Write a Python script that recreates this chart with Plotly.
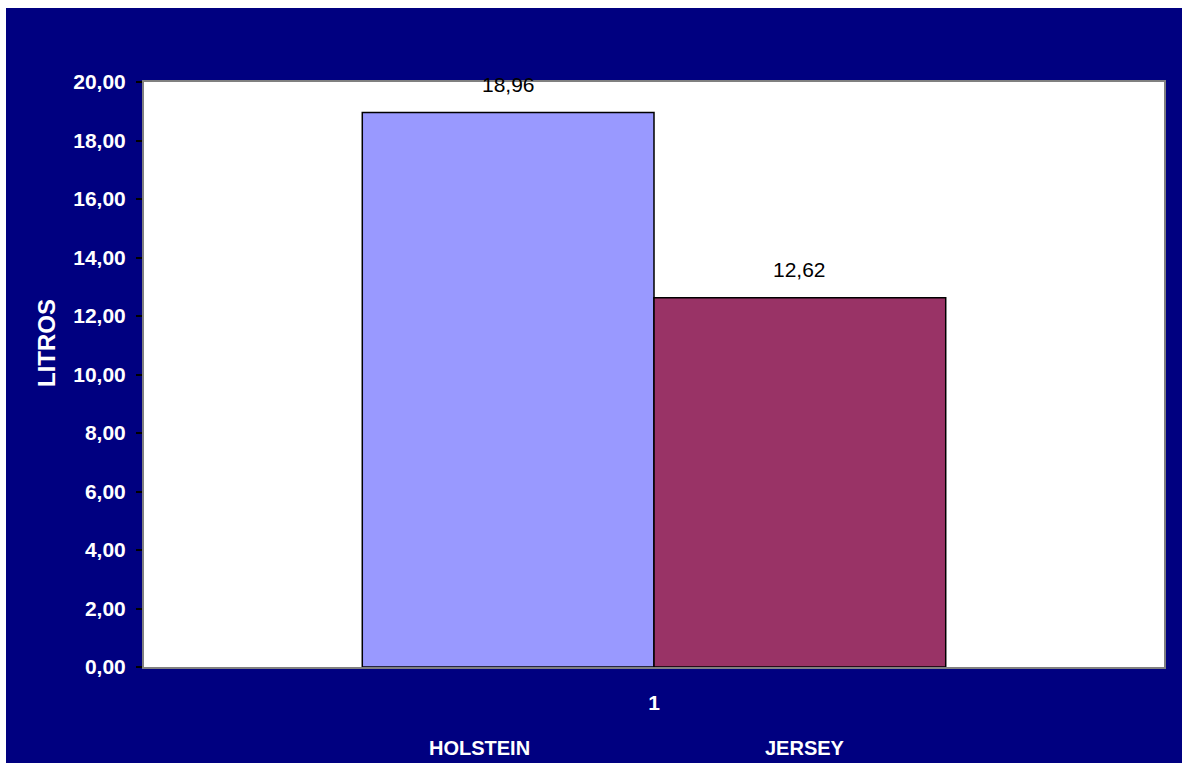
import plotly.graph_objects as go

category = ["1"]
series_names = ["HOLSTEIN", "JERSEY"]
holstein = [18.96]
jersey = [12.62]
series_values = [holstein, jersey]
series_colors = ["#9999FF", "#993366"]
y_ticks = [0, 2, 4, 6, 8, 10, 12, 14, 16, 18, 20]

W, H = 1182, 763
L, R, T, B = 144, 18, 82, 96
pw, ph = W - L - R, H - T - B
BARGAP = 0.428

def px_x(p):
    return (p - L) / pw

def px_y(p):
    return (H - B - p) / ph

fig = go.Figure()
for name, vals, col in zip(series_names, series_values, series_colors):
    fig.add_trace(go.Bar(
        x=category, y=vals, name=name,
        marker=dict(color=col, line=dict(color="black", width=1.5)),
        showlegend=False,
    ))

bar_w = pw * (1 - BARGAP) / len(series_values)
annotations = []
for i, vals in enumerate(series_values):
    shift = (i - (len(series_values) - 1) / 2) * bar_w
    for ci, v in enumerate(vals):
        annotations.append(dict(
            x=ci, y=v, xref="x", yref="y", text=f"{v:.2f}".replace(".", ","),
            showarrow=False, xshift=shift, yshift=28, yanchor="middle",
            font=dict(family="Liberation Sans, Arial", size=21, color="black"),
        ))

legend_x = [479, 805]
for name, lx in zip(series_names, legend_x):
    annotations.append(dict(
        x=px_x(lx), y=px_y(748), xref="paper", yref="paper", text=name,
        showarrow=False, xanchor="center", yanchor="middle",
        font=dict(family="Liberation Sans, Arial", size=20, color="white", weight="bold"),
    ))

annotations.append(dict(
    x=px_x(46), y=px_y(343), xref="paper", yref="paper", text="LITROS",
    showarrow=False, textangle=-90, xanchor="center", yanchor="middle",
    font=dict(family="Liberation Sans, Arial", size=24, color="white", weight="bold"),
))

shapes = [
    dict(type="rect", xref="paper", yref="paper", layer="below",
         x0=px_x(0), x1=px_x(6), y0=px_y(H), y1=px_y(0),
         fillcolor="white", line=dict(width=0)),
    dict(type="rect", xref="paper", yref="paper", layer="below",
         x0=px_x(0), x1=px_x(W), y0=px_y(8), y1=px_y(0),
         fillcolor="white", line=dict(width=0)),
]

fig.update_layout(
    width=W, height=H,
    margin=dict(l=L, r=R, t=T, b=B, autoexpand=False),
    paper_bgcolor="#000080",
    plot_bgcolor="white",
    barmode="group", bargap=BARGAP, bargroupgap=0,
    separators=",.",
    annotations=annotations,
    shapes=shapes,
    xaxis=dict(
        type="category", range=[-0.5, 0.5],
        showline=True, linecolor="#808080", linewidth=2, mirror=True,
        ticks="", showgrid=False, ticklabelstandoff=16,
        tickfont=dict(family="Liberation Sans, Arial", size=21, color="white", weight="bold"),
    ),
    yaxis=dict(
        range=[0, 20], tickvals=y_ticks, tickformat=".2f",
        showline=True, linecolor="#808080", linewidth=2, mirror=True,
        ticks="outside", ticklen=6, tickcolor="black", tickwidth=1.5,
        showgrid=False, zeroline=False, ticklabelstandoff=6,
        tickfont=dict(family="Liberation Sans, Arial", size=21, color="white", weight="bold"),
    ),
)

fig.write_html(
    "out.html",
    config={"displayModeBar": False},
    post_script="document.body.style.margin='0';document.body.style.overflow='hidden';",
)
